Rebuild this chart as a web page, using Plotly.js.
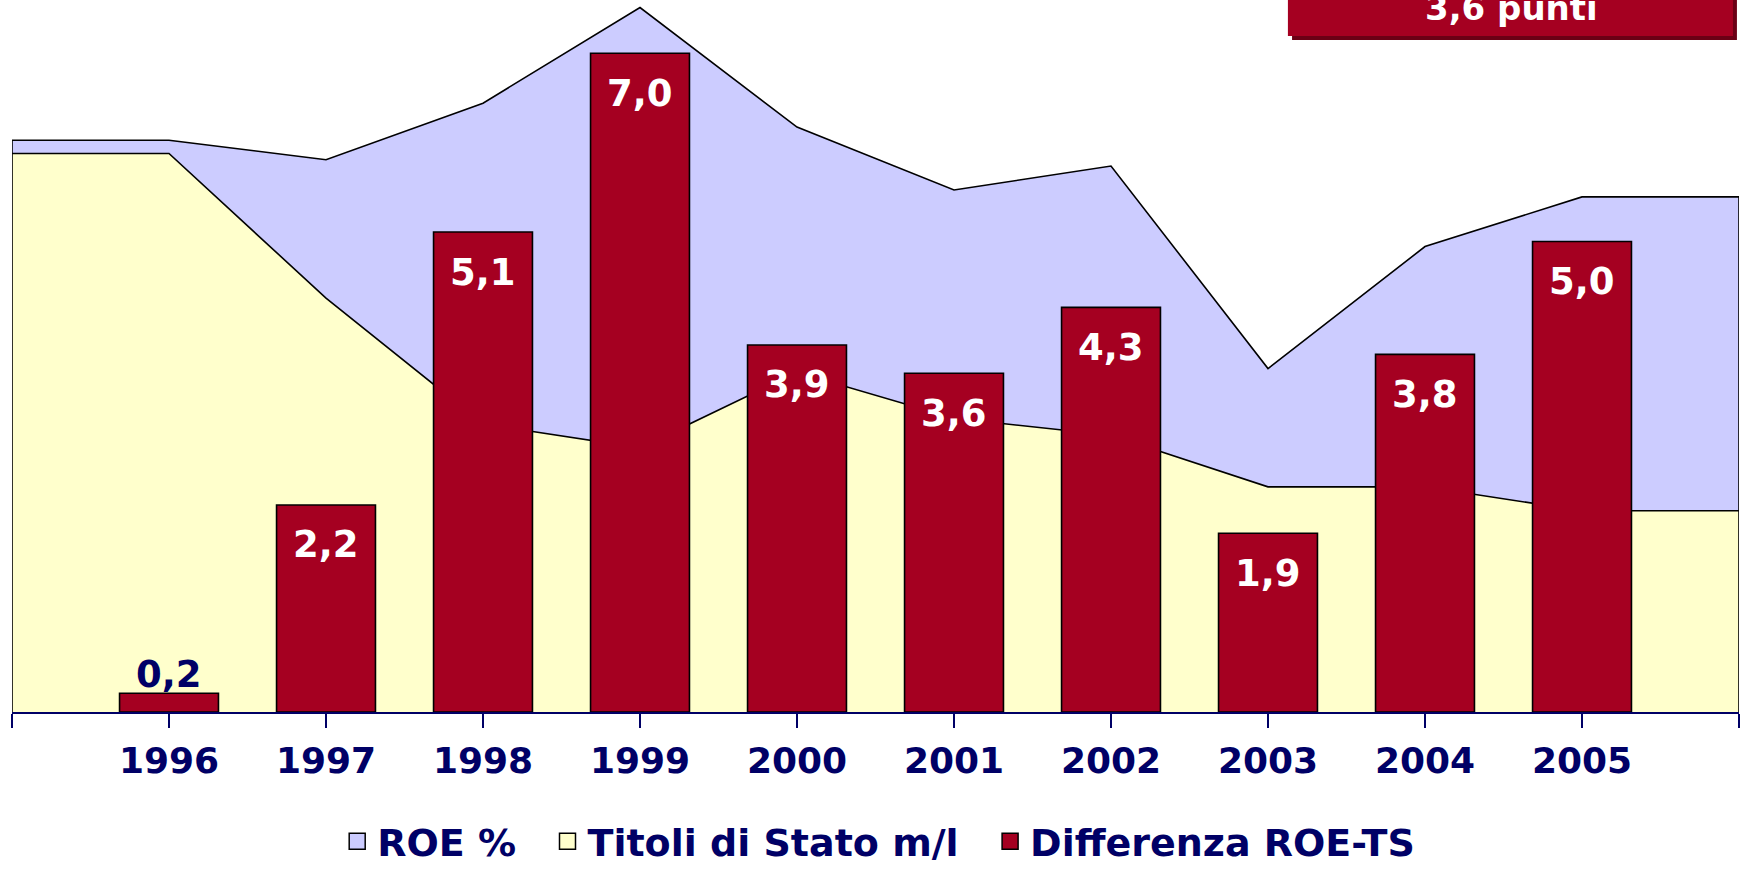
<!DOCTYPE html>
<html>
<head>
<meta charset="utf-8">
<script src="https://cdn.plot.ly/plotly-3.0.1.min.js"></script>
<style>
  html, body { margin: 0; padding: 0; background: #ffffff; }
  #chart { width: 1740px; height: 873px; }
</style>
</head>
<body>
<div id="chart"></div>
<script>
// ---- data ----
const categories = ['1996', '1997', '1998', '1999', '2000', '2001', '2002', '2003', '2004', '2005'];
const roe = [9.09, 8.78, 9.68, 11.20, 9.30, 8.30, 8.68, 5.46, 7.40, 8.19];
const titoli = [8.88, 6.58, 4.58, 4.20, 5.40, 4.67, 4.40, 3.58, 3.58, 3.20];
const differenza = [0.2, 2.2, 5.1, 7.0, 3.9, 3.6, 4.3, 1.9, 3.8, 5.0];
const seriesNames = ['ROE %', 'Titoli di Stato m/l', 'Differenza ROE-TS'];
const boxText = '3,6 punti';

// ---- helpers ----
const NAVY = '#000066';
const RED = '#A50021';
const BLUE = '#CCCCFF';
const YELLOW = '#FFFFCC';
const FONT = 'DejaVu Sans, Verdana, sans-serif';

const n = categories.length;
const idx = categories.map((_, i) => i);
const areaX = [-1, -1].concat(idx, [n, n]);
function areaY(vals) { return [0, vals[0]].concat(vals, [vals[n - 1], 0]); }
const labels = differenza.map(v => v.toFixed(1).replace('.', ','));

const tickvals = [-1].concat(idx, [n]);
const ticktext = [''].concat(categories, ['']);

const traces = [
  {
    type: 'scatter', x: areaX, y: areaY(roe), mode: 'lines', fill: 'tozeroy',
    fillcolor: BLUE, line: { color: '#000000', width: 1.6 }, showlegend: false,
    xaxis: 'x', yaxis: 'y', hoverinfo: 'skip'
  },
  {
    type: 'scatter', x: areaX, y: areaY(titoli), mode: 'lines', fill: 'tozeroy',
    fillcolor: YELLOW, line: { color: '#000000', width: 1.6 }, showlegend: false,
    xaxis: 'x', yaxis: 'y', hoverinfo: 'skip'
  },
  {
    type: 'bar', x: idx, y: differenza, width: 0.63,
    marker: { color: RED, line: { color: '#000000', width: 1.6 } },
    showlegend: false, xaxis: 'x', yaxis: 'y2', hoverinfo: 'skip'
  }
];

// legend entries (trailing no-break spaces widen the gap between entries)
[BLUE, YELLOW, RED].forEach((c, i) => {
  const pad = i < 2 ? '\u00a0\u00a0' : '';
  traces.push({
    type: 'scatter', x: [null], y: [null], mode: 'markers', name: seriesNames[i] + pad,
    marker: { symbol: 'square', size: 16, color: c, line: { color: '#000000', width: 1.5 } }
  });
});

const annotations = differenza.map((v, i) => {
  const small = v < 1;
  return {
    x: i, y: v, xref: 'x', yref: 'y2',
    text: '<b>' + labels[i] + '</b>',
    showarrow: false, yanchor: 'middle', xanchor: 'center',
    yshift: small ? 19 : -40,
    font: { family: FONT, size: 37, color: small ? NAVY : '#FFFFFF' }
  };
});

// box in the top right corner
annotations.push({
  x: 0.868, y: 0.958, xref: 'paper', yref: 'paper',
  text: '<b>' + boxText + '</b>', showarrow: false,
  xanchor: 'center', yanchor: 'bottom',
  font: { family: FONT, size: 34, color: '#FFFFFF' }
});

const shapes = [
  {
    type: 'rect', xref: 'paper', yref: 'paper', layer: 'above',
    x0: 0.7412, x1: 0.9988, y0: 0.9438, y1: 1.2,
    fillcolor: '#6B0015', line: { width: 0 }
  },
  {
    type: 'rect', xref: 'paper', yref: 'paper', layer: 'above',
    x0: 0.7388, x1: 0.9965, y0: 0.9494, y1: 1.2,
    fillcolor: RED, line: { width: 0 }
  }
];

const layout = {
  width: 1740, height: 873,
  margin: { l: 12, r: 1, t: 0, b: 161 },
  paper_bgcolor: '#FFFFFF', plot_bgcolor: '#FFFFFF',
  showlegend: true,
  legend: {
    orientation: 'h', xref: 'container', yref: 'container',
    x: 0.505, xanchor: 'center', y: 0, yanchor: 'bottom',
    font: { family: FONT, size: 38, color: NAVY, weight: 'bold' },
    bgcolor: 'rgba(0,0,0,0)', itemsizing: 'trace', traceorder: 'normal'
  },
  xaxis: {
    range: [-1, n], tickmode: 'array', tickvals: tickvals, ticktext: ticktext,
    ticks: 'outside', ticklen: 14, tickwidth: 2, tickcolor: NAVY,
    showline: true, linecolor: NAVY, linewidth: 2,
    showgrid: false, zeroline: false, automargin: false,
    tickfont: { family: FONT, size: 36, color: NAVY, weight: 'bold' },
    ticklabelstandoff: 2, fixedrange: true
  },
  yaxis: {
    range: [0, 11.32], visible: false, showgrid: false, zeroline: false, fixedrange: true
  },
  yaxis2: {
    range: [0, 7.566], overlaying: 'y', visible: false, showgrid: false,
    zeroline: false, fixedrange: true
  },
  bargap: 0,
  annotations: annotations,
  shapes: shapes
};

Plotly.newPlot('chart', traces, layout, { displayModeBar: false, staticPlot: true });
</script>
</body>
</html>
